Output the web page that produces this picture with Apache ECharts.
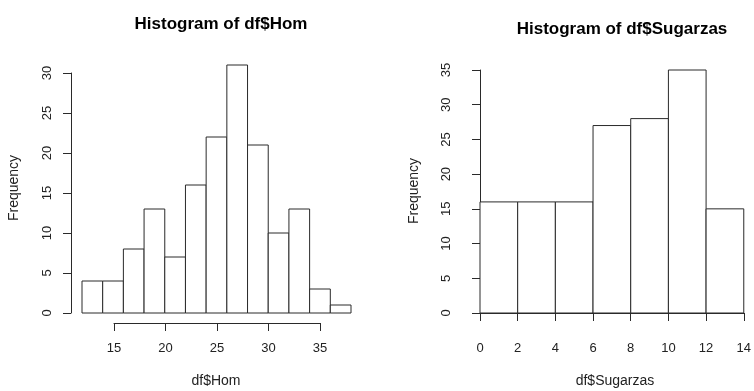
<!DOCTYPE html>
<html>
<head>
<meta charset="utf-8">
<script src="https://cdn.jsdelivr.net/npm/echarts@6/dist/echarts.min.js"></script>
<style>
  html, body { margin: 0; padding: 0; background: #fff; }
  #chart { width: 754px; height: 391px; }
</style>
</head>
<body>
<div id="chart"></div>
<script>
// Histogram of df$Hom: bin edges (width 2) and counts
const homBreaks = [12, 14, 16, 18, 20, 22, 24, 26, 28, 30, 32, 34, 36, 38];
const homCounts = [4, 4, 8, 13, 7, 16, 22, 31, 21, 10, 13, 3, 1];
const homXTicks = [15, 20, 25, 30, 35];
const homYTicks = [0, 5, 10, 15, 20, 25, 30];

// Histogram of df$Sugarzas: bin edges (width 2) and counts
const sugBreaks = [0, 2, 4, 6, 8, 10, 12, 14];
const sugCounts = [16, 16, 16, 27, 28, 35, 15];
const sugXTicks = [0, 2, 4, 6, 8, 10, 12, 14];
const sugYTicks = [0, 5, 10, 15, 20, 25, 30, 35];

const FONT = '"Liberation Sans", Arial, Helvetica, sans-serif';
const INK = '#2a2a2a';

function binData(breaks, counts) {
  return counts.map((c, i) => [breaks[i], breaks[i + 1], c]);
}

function histSeries(xIdx, yIdx, breaks, counts) {
  return {
    type: 'custom',
    xAxisIndex: xIdx,
    yAxisIndex: yIdx,
    clip: false,
    data: binData(breaks, counts),
    renderItem: function (params, api) {
      const p0 = api.coord([api.value(0), 0]);
      const p1 = api.coord([api.value(1), api.value(2)]);
      return {
        type: 'rect',
        shape: { x: p0[0], y: p1[1], width: p1[0] - p0[0], height: p0[1] - p1[1] },
        style: { fill: '#fff', stroke: INK, lineWidth: 1 }
      };
    }
  };
}

const axisLabelStyle = { color: '#222', fontSize: 13, fontFamily: FONT };

function valueAxisX(gridIndex, ticks, offset) {
  return {
    type: 'value', gridIndex: gridIndex,
    min: ticks[0], max: ticks[ticks.length - 1],
    interval: ticks[1] - ticks[0],
    offset: offset || 0,
    splitLine: { show: false },
    axisLine: { show: true, lineStyle: { color: INK, width: 1 } },
    axisTick: { show: true, inside: false, length: 8, lineStyle: { color: INK } },
    axisLabel: Object.assign({ margin: 19, showMinLabel: true, showMaxLabel: true }, axisLabelStyle)
  };
}

function valueAxisY(gridIndex, ticks, offset) {
  return {
    type: 'value', gridIndex: gridIndex,
    min: ticks[0], max: ticks[ticks.length - 1],
    interval: ticks[1] - ticks[0],
    offset: offset || 0,
    splitLine: { show: false },
    axisLine: { show: true, lineStyle: { color: INK, width: 1 } },
    axisTick: { show: true, inside: false, length: 8, lineStyle: { color: INK } },
    axisLabel: Object.assign({ margin: 17, rotate: 90, showMinLabel: true, showMaxLabel: true }, axisLabelStyle)
  };
}

function hidden(type, gridIndex, min, max) {
  return { type: type, gridIndex: gridIndex, min: min, max: max, show: false, splitLine: { show: false } };
}

const titleStyle = { fontFamily: FONT, fontWeight: 'bold', fontSize: 17, color: '#000' };
const nameStyle = { fontFamily: FONT, fontSize: 14, fill: '#222', align: 'center', verticalAlign: 'middle' };

const chart = echarts.init(document.getElementById('chart'), null, { renderer: 'canvas' });

chart.setOption({
  backgroundColor: '#fff',
  animation: false,
  title: [
    { text: 'Histogram of df$Hom', left: 216, top: 11, textAlign: 'center', textStyle: titleStyle },
    { text: 'Histogram of df$Sugarzas', left: 617, top: 16, textAlign: 'center', textStyle: titleStyle }
  ],
  grid: [
    // left: bars (x 12..38, y 0..30)
    { left: 82, top: 73, width: 269, height: 240 },
    // left: x axis drawn only across the tick span 15..35
    { left: 114, top: 300, width: 206, height: 23 },
    // right: bars (x 0..14, y 0..35)
    { left: 480, top: 70, width: 265, height: 243 }
  ],
  xAxis: [
    hidden('value', 0, homBreaks[0], homBreaks[homBreaks.length - 1]),
    valueAxisX(1, homXTicks, 0),
    valueAxisX(2, sugXTicks, 10)
  ],
  yAxis: [
    valueAxisY(0, homYTicks, 11),
    hidden('value', 1, 0, 1),
    valueAxisY(2, sugYTicks, 10)
  ],
  graphic: [
    { type: 'text', x: 14, y: 188, rotation: Math.PI / 2, style: Object.assign({ text: 'Frequency' }, nameStyle) },
    { type: 'text', x: 414, y: 191, rotation: Math.PI / 2, style: Object.assign({ text: 'Frequency' }, nameStyle) },
    { type: 'text', x: 216, y: 381, style: Object.assign({ text: 'df$Hom' }, nameStyle) },
    { type: 'text', x: 615, y: 381, style: Object.assign({ text: 'df$Sugarzas' }, nameStyle) }
  ],
  series: [
    histSeries(0, 0, homBreaks, homCounts),
    histSeries(2, 2, sugBreaks, sugCounts)
  ]
});
</script>
</body>
</html>
